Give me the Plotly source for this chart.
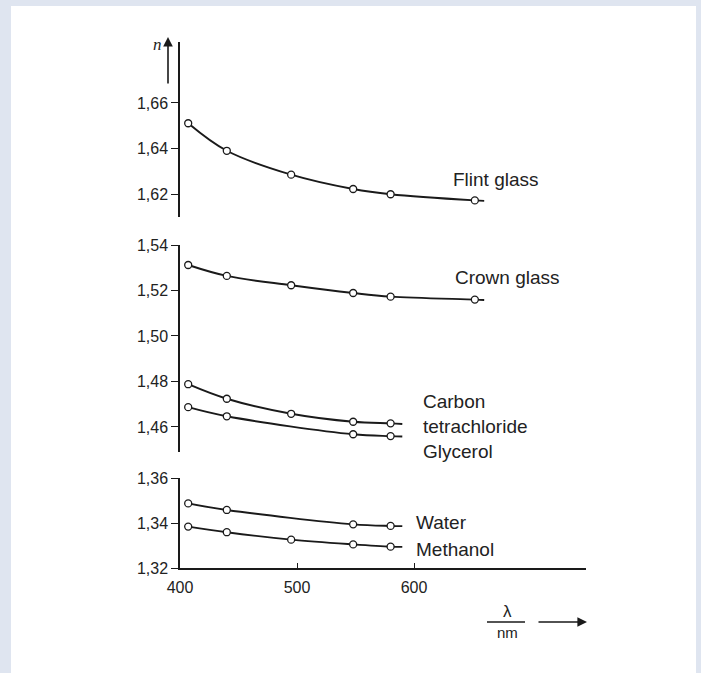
import plotly.graph_objects as go

# ---- data ----
flint_wl = [407, 440, 495, 548, 580, 652]
flint_n = [1.6511, 1.6390, 1.6285, 1.6222, 1.6199, 1.6172]
flint_end = (660, 1.6170)

crown_wl = [407, 440, 495, 548, 580, 652]
crown_n = [1.5312, 1.5264, 1.5223, 1.5189, 1.5173, 1.5160]
crown_end = (660, 1.5158)

ccl4_wl = [407, 440, 495, 548, 580]
ccl4_n = [1.4788, 1.4724, 1.4658, 1.4623, 1.4616]
ccl4_end = (590, 1.4613)

glyc_wl = [407, 440, 548, 580]
glyc_n = [1.4687, 1.4647, 1.4568, 1.4560]
glyc_end = (590, 1.4558)

water_wl = [407, 440, 548, 580]
water_n = [1.3487, 1.3458, 1.3394, 1.3387]
water_end = (590, 1.3386)

meth_wl = [407, 440, 495, 548, 580]
meth_n = [1.3384, 1.3359, 1.3326, 1.3305, 1.3295]
meth_end = (590, 1.3294)

x_ticks = [400, 500, 600]
y_ticks_bottom = [1.32, 1.34, 1.36]
y_ticks_mid = [1.46, 1.48, 1.50, 1.52, 1.54]
y_ticks_top = [1.62, 1.64, 1.66]

labels = [
    ("Flint glass", 631.6, 1.6265, "y3"),
    ("Crown glass", 633.3, 1.5256, "y2"),
    ("Carbon", 605.7, 1.4710, "y2"),
    ("tetrachloride", 605.7, 1.4601, "y2"),
    ("Glycerol", 605.7, 1.4492, "y2"),
    ("Water", 600.0, 1.3401, "y"),
    ("Methanol", 600.0, 1.3284, "y"),
]

LINE = "#1a1a1a"
FONT = "Liberation Sans, Arial, sans-serif"

def fmt(v):
    return f"{v:.2f}".replace(".", ",")

fig = go.Figure()

series = [
    (flint_wl, flint_n, flint_end, "y3"),
    (crown_wl, crown_n, crown_end, "y2"),
    (ccl4_wl, ccl4_n, ccl4_end, "y2"),
    (glyc_wl, glyc_n, glyc_end, "y2"),
    (water_wl, water_n, water_end, "y"),
    (meth_wl, meth_n, meth_end, "y"),
]
for wl, n, end, ya in series:
    fig.add_trace(go.Scatter(
        x=wl + [end[0]], y=n + [end[1]], mode="lines",
        line=dict(color=LINE, width=1.9, shape="spline", smoothing=1.0),
        xaxis="x", yaxis=ya, hoverinfo="skip", showlegend=False))
    fig.add_trace(go.Scatter(
        x=wl, y=n, mode="markers",
        marker=dict(symbol="circle", size=7, color="white",
                    line=dict(color=LINE, width=1.3)),
        xaxis="x", yaxis=ya, showlegend=False))

L, R, T, B = 180, 115, 42, 105
W, H = 701, 673
pw, ph = W - L - R, H - T - B

def px_x(px):
    return (px - L) / pw

def px_y(py):
    return (H - B - py) / ph

yax_common = dict(showline=True, linecolor=LINE, linewidth=1.5, ticks="outside",
                  ticklen=7, tickwidth=1.3, tickcolor=LINE, showgrid=False,
                  zeroline=False, anchor="x",
                  tickfont=dict(family=FONT, size=16, color="#222"))

fig.update_layout(
    width=W, height=H,
    margin=dict(l=L, r=R, t=T, b=B),
    paper_bgcolor="#dfe5f0",
    plot_bgcolor="rgba(0,0,0,0)",
    xaxis=dict(range=[400, 400 + pw / 1.17], showline=True, linecolor=LINE,
               linewidth=1.5, ticks="inside", ticklen=5, tickwidth=1.3,
               tickcolor=LINE, tickvals=x_ticks, ticktext=[str(v) for v in x_ticks],
               showgrid=False, zeroline=False, ticklabelstandoff=4,
               tickfont=dict(family=FONT, size=16, color="#222")),
    yaxis=dict(domain=[0, 90 / ph], range=[1.32, 1.36],
               tickvals=y_ticks_bottom, ticktext=[fmt(v) for v in y_ticks_bottom],
               **yax_common),
    yaxis2=dict(domain=[px_y(452), px_y(245)], range=[1.449, 1.54],
                tickvals=y_ticks_mid, ticktext=[fmt(v) for v in y_ticks_mid],
                **yax_common),
    yaxis3=dict(domain=[px_y(217), 1], range=[1.6099, 1.6868],
                tickvals=y_ticks_top, ticktext=[fmt(v) for v in y_ticks_top],
                **yax_common),
    shapes=[
        dict(type="rect", xref="paper", yref="paper", layer="below",
             x0=px_x(11), x1=px_x(696), y0=px_y(700), y1=px_y(6),
             fillcolor="white", line=dict(width=0)),
        dict(type="line", xref="paper", yref="paper",
             x0=px_x(487), x1=px_x(525), y0=px_y(622), y1=px_y(622),
             line=dict(color=LINE, width=1.3)),
    ],
)

annots = []
for text, x, y, ya in labels:
    annots.append(dict(text=text, x=x, y=y, xref="x", yref=ya, xanchor="left",
                       yanchor="middle", showarrow=False,
                       font=dict(family=FONT, size=19, color="#222")))
# y-axis arrow with n
annots.append(dict(x=px_x(168), y=px_y(37), xref="paper", yref="paper",
                   ax=0, ay=48, showarrow=True, arrowhead=2, arrowsize=1.2,
                   arrowwidth=1.6, arrowcolor=LINE, text=""))
annots.append(dict(text="<i>n</i>", x=px_x(157), y=px_y(44), xref="paper",
                   yref="paper", xanchor="center", yanchor="middle", showarrow=False,
                   font=dict(family="Liberation Serif, serif", size=17, color="#222")))
# x-axis label fraction and arrow
annots.append(dict(text="λ", x=px_x(507), y=px_y(611), xref="paper", yref="paper",
                   xanchor="center", yanchor="middle",
                   showarrow=False, font=dict(family=FONT, size=17, color="#222")))
annots.append(dict(text="nm", x=px_x(507), y=px_y(632), xref="paper", yref="paper",
                   xanchor="center", yanchor="middle",
                   showarrow=False, font=dict(family=FONT, size=15, color="#222")))
annots.append(dict(x=px_x(587), y=px_y(622), xref="paper", yref="paper",
                   ax=-50, ay=0, showarrow=True, arrowhead=2, arrowsize=1.2,
                   arrowwidth=1.6, arrowcolor=LINE, text=""))
fig.update_layout(annotations=annots)

fig.write_html("out.html",
               config={"displayModeBar": False},
               post_script="document.body.style.margin='0';"
                           "document.body.style.overflow='hidden';")
